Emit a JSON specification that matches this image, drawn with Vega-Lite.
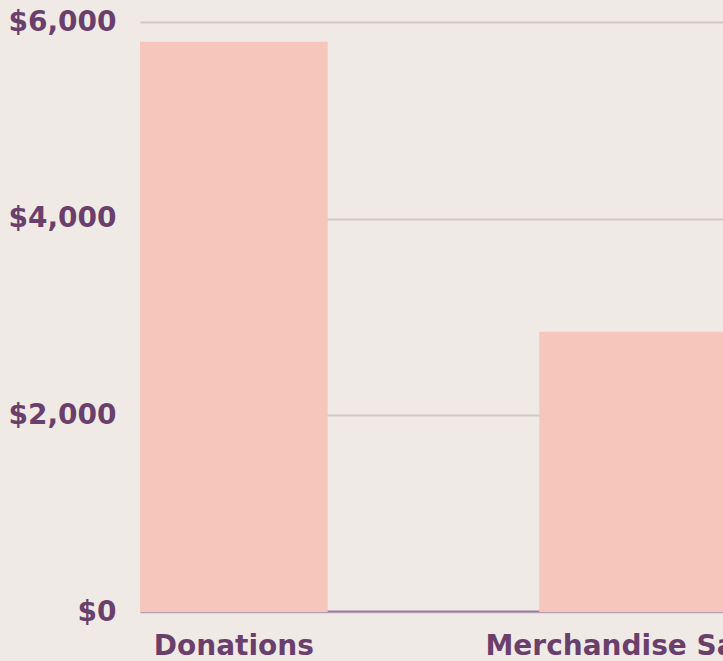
{
  "$schema": "https://vega.github.io/schema/vega-lite/v6.json",
  "autosize": "none",
  "padding": {"left": 140, "top": 22, "right": 0, "bottom": 49},
  "width": 587,
  "height": 590,
  "background": "#efeae6",
  "data": {"values": [
    {"source": "Donations", "amount": 5800},
    {"source": "Merchandise Sales", "amount": 2850}
  ]},
  "mark": {"type": "bar", "color": "#f6c5bb"},
  "encoding": {
    "x": {
      "field": "source", "type": "nominal", "sort": null,
      "scale": {"paddingInner": 0.53, "paddingOuter": 0},
      "axis": {
        "title": null, "labelAngle": 0, "ticks": false, "zindex": 0, "offset": -1,
        "labelFont": "DejaVu Sans", "labelFontWeight": "bold", "labelFontSize": 28,
        "labelColor": "#6b3f6b", "labelPadding": 21, "labelLimit": 0,
        "domainColor": "#9d7a9d", "domainWidth": 2, "labelOverlap": false, "labelBound": false
      }
    },
    "y": {
      "field": "amount", "type": "quantitative",
      "scale": {"domain": [0, 6000]},
      "axis": {
        "title": null, "values": [0, 2000, 4000, 6000], "format": "$,.0f",
        "ticks": false, "domain": false,
        "gridColor": "#d3c7cb", "gridWidth": 2,
        "labelFont": "DejaVu Sans", "labelFontWeight": "bold", "labelFontSize": 28,
        "labelColor": "#6b3f6b", "labelPadding": 24
      }
    }
  },
  "config": {"view": {"stroke": null}}
}
